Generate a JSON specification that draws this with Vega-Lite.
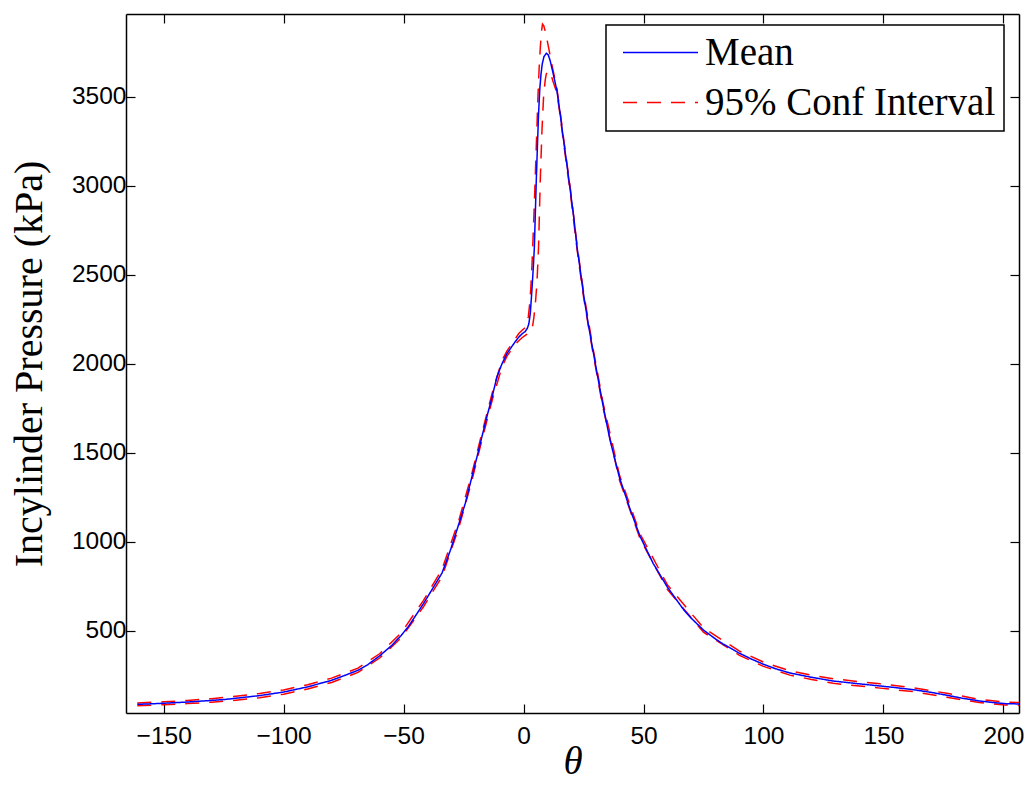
{
  "$schema": "https://vega.github.io/schema/vega-lite/v6.json",
  "width": 893,
  "height": 699,
  "autosize": {"type": "none"},
  "padding": {"left": 126, "top": 14, "right": 10, "bottom": 72},
  "background": "white",
  "config": {
    "view": {"stroke": null},
    "axis": {
      "grid": false,
      "domainColor": "black",
      "domainWidth": 1.5,
      "tickColor": "black",
      "tickWidth": 1.2,
      "tickSize": -9,
      "labelFont": "Liberation Sans",
      "labelFontSize": 24.5,
      "labelColor": "black",
      "titleFont": "Liberation Serif",
      "titleFontSize": 39,
      "titleFontWeight": "normal",
      "titleColor": "black"
    },
    "legend": {"strokeWidth": 1.5}
  },
  "datasets": {
    "curves": [
      {"t": -161, "s": "Upper", "v": 96}, {"t": -150, "s": "Upper", "v": 102}, {"t": -140, "s": "Upper", "v": 110}, {"t": -130, "s": "Upper", "v": 120},
      {"t": -120, "s": "Upper", "v": 133}, {"t": -110, "s": "Upper", "v": 149}, {"t": -100, "s": "Upper", "v": 169}, {"t": -90, "s": "Upper", "v": 198},
      {"t": -80, "s": "Upper", "v": 235}, {"t": -69, "s": "Upper", "v": 291}, {"t": -60, "s": "Upper", "v": 372}, {"t": -51, "s": "Upper", "v": 489},
      {"t": -41.7, "s": "Upper", "v": 672}, {"t": -34, "s": "Upper", "v": 845}, {"t": -27, "s": "Upper", "v": 1120}, {"t": -22, "s": "Upper", "v": 1360},
      {"t": -17, "s": "Upper", "v": 1630}, {"t": -13, "s": "Upper", "v": 1840}, {"t": -9, "s": "Upper", "v": 2018}, {"t": -6.9, "s": "Upper", "v": 2073},
      {"t": -5, "s": "Upper", "v": 2110}, {"t": -3.5, "s": "Upper", "v": 2140}, {"t": -2, "s": "Upper", "v": 2170}, {"t": -0.5, "s": "Upper", "v": 2190},
      {"t": 0.7, "s": "Upper", "v": 2204}, {"t": 1.6, "s": "Upper", "v": 2240}, {"t": 2, "s": "Upper", "v": 2265}, {"t": 2.5, "s": "Upper", "v": 2330},
      {"t": 3, "s": "Upper", "v": 2420}, {"t": 3.5, "s": "Upper", "v": 2550}, {"t": 4, "s": "Upper", "v": 2720}, {"t": 4.5, "s": "Upper", "v": 2900},
      {"t": 5, "s": "Upper", "v": 3100}, {"t": 5.5, "s": "Upper", "v": 3300}, {"t": 6, "s": "Upper", "v": 3500}, {"t": 6.5, "s": "Upper", "v": 3660},
      {"t": 7, "s": "Upper", "v": 3780}, {"t": 7.5, "s": "Upper", "v": 3870}, {"t": 7.9, "s": "Upper", "v": 3908}, {"t": 8.4, "s": "Upper", "v": 3900},
      {"t": 9, "s": "Upper", "v": 3870}, {"t": 9.5, "s": "Upper", "v": 3840}, {"t": 10.4, "s": "Upper", "v": 3778}, {"t": 11.8, "s": "Upper", "v": 3680},
      {"t": 13.9, "s": "Upper", "v": 3545}, {"t": 15, "s": "Upper", "v": 3442}, {"t": 16.7, "s": "Upper", "v": 3265}, {"t": 19.5, "s": "Upper", "v": 2985},
      {"t": 22.3, "s": "Upper", "v": 2668}, {"t": 25, "s": "Upper", "v": 2404}, {"t": 29, "s": "Upper", "v": 2084}, {"t": 33, "s": "Upper", "v": 1789},
      {"t": 40, "s": "Upper", "v": 1374}, {"t": 48.6, "s": "Upper", "v": 1044}, {"t": 60, "s": "Upper", "v": 758}, {"t": 75, "s": "Upper", "v": 517},
      {"t": 90, "s": "Upper", "v": 387}, {"t": 100, "s": "Upper", "v": 325}, {"t": 111, "s": "Upper", "v": 276}, {"t": 120, "s": "Upper", "v": 252},
      {"t": 129, "s": "Upper", "v": 232}, {"t": 140, "s": "Upper", "v": 215}, {"t": 148.6, "s": "Upper", "v": 203}, {"t": 162.5, "s": "Upper", "v": 181},
      {"t": 176.4, "s": "Upper", "v": 150}, {"t": 190, "s": "Upper", "v": 116}, {"t": 200.7, "s": "Upper", "v": 100}, {"t": 206.5, "s": "Upper", "v": 98},

      {"t": -161, "s": "Lower", "v": 80}, {"t": -150, "s": "Lower", "v": 86}, {"t": -140, "s": "Lower", "v": 92}, {"t": -130, "s": "Lower", "v": 100},
      {"t": -120, "s": "Lower", "v": 111}, {"t": -110, "s": "Lower", "v": 125}, {"t": -100, "s": "Lower", "v": 145}, {"t": -90, "s": "Lower", "v": 174},
      {"t": -80, "s": "Lower", "v": 211}, {"t": -69, "s": "Lower", "v": 267}, {"t": -60, "s": "Lower", "v": 348}, {"t": -51, "s": "Lower", "v": 461},
      {"t": -41.7, "s": "Lower", "v": 636}, {"t": -34, "s": "Lower", "v": 805}, {"t": -27, "s": "Lower", "v": 1080}, {"t": -22, "s": "Lower", "v": 1320},
      {"t": -17, "s": "Lower", "v": 1590}, {"t": -13, "s": "Lower", "v": 1800}, {"t": -9, "s": "Lower", "v": 1982}, {"t": -6.9, "s": "Lower", "v": 2043},
      {"t": -5, "s": "Lower", "v": 2080}, {"t": -3.5, "s": "Lower", "v": 2108}, {"t": -2, "s": "Lower", "v": 2130}, {"t": -0.5, "s": "Lower", "v": 2148},
      {"t": 0.7, "s": "Lower", "v": 2160}, {"t": 1.6, "s": "Lower", "v": 2168}, {"t": 2.5, "s": "Lower", "v": 2175}, {"t": 3.2, "s": "Lower", "v": 2185},
      {"t": 3.8, "s": "Lower", "v": 2215}, {"t": 4.3, "s": "Lower", "v": 2260}, {"t": 5, "s": "Lower", "v": 2350}, {"t": 5.6, "s": "Lower", "v": 2460},
      {"t": 6.25, "s": "Lower", "v": 2654}, {"t": 6.96, "s": "Lower", "v": 3028}, {"t": 7.67, "s": "Lower", "v": 3309}, {"t": 8.33, "s": "Lower", "v": 3497},
      {"t": 9, "s": "Lower", "v": 3590}, {"t": 9.46, "s": "Lower", "v": 3627}, {"t": 10.4, "s": "Lower", "v": 3646}, {"t": 11.4, "s": "Lower", "v": 3627},
      {"t": 12.2, "s": "Lower", "v": 3590}, {"t": 13.9, "s": "Lower", "v": 3522}, {"t": 15, "s": "Lower", "v": 3418}, {"t": 16.7, "s": "Lower", "v": 3241},
      {"t": 19.5, "s": "Lower", "v": 2960}, {"t": 22.3, "s": "Lower", "v": 2642}, {"t": 25, "s": "Lower", "v": 2376}, {"t": 29, "s": "Lower", "v": 2056},
      {"t": 33, "s": "Lower", "v": 1761}, {"t": 40, "s": "Lower", "v": 1346}, {"t": 48.6, "s": "Lower", "v": 1016}, {"t": 60, "s": "Lower", "v": 732},
      {"t": 75, "s": "Lower", "v": 493}, {"t": 90, "s": "Lower", "v": 363}, {"t": 100, "s": "Lower", "v": 301}, {"t": 111, "s": "Lower", "v": 252},
      {"t": 120, "s": "Lower", "v": 228}, {"t": 129, "s": "Lower", "v": 206}, {"t": 140, "s": "Lower", "v": 191}, {"t": 148.6, "s": "Lower", "v": 179},
      {"t": 162.5, "s": "Lower", "v": 159}, {"t": 176.4, "s": "Lower", "v": 128}, {"t": 190, "s": "Lower", "v": 98}, {"t": 200.7, "s": "Lower", "v": 84},
      {"t": 206.5, "s": "Lower", "v": 82},

      {"t": -161, "s": "Mean", "v": 88}, {"t": -155, "s": "Mean", "v": 91}, {"t": -150, "s": "Mean", "v": 94}, {"t": -140, "s": "Mean", "v": 101},
      {"t": -130, "s": "Mean", "v": 110}, {"t": -124, "s": "Mean", "v": 116}, {"t": -120, "s": "Mean", "v": 122}, {"t": -110, "s": "Mean", "v": 137},
      {"t": -100, "s": "Mean", "v": 157}, {"t": -90, "s": "Mean", "v": 186}, {"t": -80, "s": "Mean", "v": 223}, {"t": -75, "s": "Mean", "v": 248},
      {"t": -69, "s": "Mean", "v": 279}, {"t": -65, "s": "Mean", "v": 310}, {"t": -60, "s": "Mean", "v": 360}, {"t": -55, "s": "Mean", "v": 418},
      {"t": -51, "s": "Mean", "v": 475}, {"t": -48, "s": "Mean", "v": 525}, {"t": -44.5, "s": "Mean", "v": 596}, {"t": -41.7, "s": "Mean", "v": 654},
      {"t": -37.5, "s": "Mean", "v": 747}, {"t": -34, "s": "Mean", "v": 825}, {"t": -30.5, "s": "Mean", "v": 953}, {"t": -27, "s": "Mean", "v": 1100},
      {"t": -24.3, "s": "Mean", "v": 1216}, {"t": -22, "s": "Mean", "v": 1340}, {"t": -19.4, "s": "Mean", "v": 1478}, {"t": -17, "s": "Mean", "v": 1610},
      {"t": -15.3, "s": "Mean", "v": 1702}, {"t": -13, "s": "Mean", "v": 1820}, {"t": -11.1, "s": "Mean", "v": 1927}, {"t": -9, "s": "Mean", "v": 2000},
      {"t": -6.9, "s": "Mean", "v": 2058}, {"t": -5, "s": "Mean", "v": 2095}, {"t": -3.5, "s": "Mean", "v": 2124}, {"t": -2, "s": "Mean", "v": 2150},
      {"t": -0.5, "s": "Mean", "v": 2170}, {"t": 0.7, "s": "Mean", "v": 2182}, {"t": 1.6, "s": "Mean", "v": 2200}, {"t": 2.2, "s": "Mean", "v": 2225},
      {"t": 2.8, "s": "Mean", "v": 2283}, {"t": 3.2, "s": "Mean", "v": 2358}, {"t": 3.6, "s": "Mean", "v": 2440}, {"t": 4.1, "s": "Mean", "v": 2550},
      {"t": 4.5, "s": "Mean", "v": 2654}, {"t": 4.9, "s": "Mean", "v": 2840}, {"t": 5.3, "s": "Mean", "v": 3028}, {"t": 5.8, "s": "Mean", "v": 3230},
      {"t": 6.25, "s": "Mean", "v": 3403}, {"t": 6.8, "s": "Mean", "v": 3550}, {"t": 7.3, "s": "Mean", "v": 3630}, {"t": 7.8, "s": "Mean", "v": 3685},
      {"t": 8.5, "s": "Mean", "v": 3725}, {"t": 9.5, "s": "Mean", "v": 3744}, {"t": 10.3, "s": "Mean", "v": 3735}, {"t": 11.1, "s": "Mean", "v": 3702},
      {"t": 12, "s": "Mean", "v": 3650}, {"t": 13, "s": "Mean", "v": 3590}, {"t": 13.9, "s": "Mean", "v": 3534}, {"t": 15, "s": "Mean", "v": 3430},
      {"t": 16.7, "s": "Mean", "v": 3253}, {"t": 18, "s": "Mean", "v": 3125}, {"t": 19.5, "s": "Mean", "v": 2972}, {"t": 21, "s": "Mean", "v": 2815},
      {"t": 22.3, "s": "Mean", "v": 2654}, {"t": 23.7, "s": "Mean", "v": 2520}, {"t": 25, "s": "Mean", "v": 2390}, {"t": 27, "s": "Mean", "v": 2220},
      {"t": 29, "s": "Mean", "v": 2070}, {"t": 31, "s": "Mean", "v": 1920}, {"t": 33, "s": "Mean", "v": 1775}, {"t": 36, "s": "Mean", "v": 1575},
      {"t": 40, "s": "Mean", "v": 1360}, {"t": 44.5, "s": "Mean", "v": 1180}, {"t": 48.6, "s": "Mean", "v": 1030}, {"t": 54, "s": "Mean", "v": 880},
      {"t": 60, "s": "Mean", "v": 745}, {"t": 66.7, "s": "Mean", "v": 620}, {"t": 70, "s": "Mean", "v": 570}, {"t": 75, "s": "Mean", "v": 505},
      {"t": 80, "s": "Mean", "v": 455}, {"t": 83, "s": "Mean", "v": 428}, {"t": 90, "s": "Mean", "v": 375}, {"t": 95, "s": "Mean", "v": 342},
      {"t": 100, "s": "Mean", "v": 313}, {"t": 105, "s": "Mean", "v": 288}, {"t": 111, "s": "Mean", "v": 264}, {"t": 120, "s": "Mean", "v": 240},
      {"t": 129, "s": "Mean", "v": 219}, {"t": 140, "s": "Mean", "v": 203}, {"t": 148.6, "s": "Mean", "v": 191}, {"t": 155, "s": "Mean", "v": 182},
      {"t": 162.5, "s": "Mean", "v": 170}, {"t": 170, "s": "Mean", "v": 155}, {"t": 176.4, "s": "Mean", "v": 139}, {"t": 183, "s": "Mean", "v": 122},
      {"t": 190, "s": "Mean", "v": 107}, {"t": 195, "s": "Mean", "v": 99}, {"t": 200.7, "s": "Mean", "v": 92}, {"t": 206.5, "s": "Mean", "v": 90}
    ]
  },
  "data": {"name": "curves"},
  "layer": [
    {
      "mark": {"type": "line", "strokeWidth": 1.5, "clip": true},
      "encoding": {
        "x": {
          "field": "t", "type": "quantitative",
          "scale": {"domain": [-165.7, 206.5], "nice": false, "zero": false},
          "axis": {"orient": "bottom", "values": [-150, -100, -50, 0, 50, 100, 150, 200], "format": "d", "title": "θ", "titleFontStyle": "italic", "labelPadding": 20, "titlePadding": -5}
        },
        "y": {
          "field": "v", "type": "quantitative",
          "scale": {"domain": [39.3, 3964.6], "nice": false, "zero": false},
          "axis": {"orient": "left", "values": [500, 1000, 1500, 2000, 2500, 3000, 3500], "format": "d", "title": "Incylinder Pressure (kPa)", "titleFontSize": 40, "labelPadding": 9, "titlePadding": 22}
        },
        "color": {
          "field": "s", "type": "nominal",
          "scale": {"domain": ["Mean", "Upper", "Lower"], "range": ["#0000ff", "#ff0000", "#ff0000"]},
          "legend": {"orient": "none", "legendX": 480, "legendY": 11, "title": null, "values": ["Mean", "Upper"],
            "labelExpr": "datum.value === 'Mean' ? 'Mean' : '95% Conf Interval'",
            "padding": 8, "strokeColor": "black", "fillColor": "white", "cornerRadius": 0,
            "symbolType": "M-3,0H3", "symbolSize": 625, "symbolStrokeWidth": 1.5, "symbolOffset": 27, "labelOffset": 25, "labelLimit": 0,
            "labelFont": "Liberation Serif", "labelFontSize": 39, "labelColor": "black", "rowPadding": 10}
        },
        "strokeDash": {
          "field": "s", "type": "nominal",
          "scale": {"domain": ["Mean", "Upper", "Lower"], "range": [[1, 0], [14, 10], [14, 10]]},
          "legend": {"orient": "none", "legendX": 480, "legendY": 11, "title": null, "values": ["Mean", "Upper"],
            "labelExpr": "datum.value === 'Mean' ? 'Mean' : '95% Conf Interval'",
            "padding": 8, "strokeColor": "black", "fillColor": "white", "cornerRadius": 0,
            "symbolType": "M-3,0H3", "symbolSize": 625, "symbolStrokeWidth": 1.5, "symbolOffset": 27, "labelOffset": 25, "labelLimit": 0,
            "labelFont": "Liberation Serif", "labelFontSize": 39, "labelColor": "black", "rowPadding": 10}
        }
      }
    },
    {
      "mark": {"type": "line", "strokeOpacity": 0},
      "encoding": {
        "x": {"field": "t", "type": "quantitative", "axis": {"orient": "top", "labels": false, "title": null, "values": [-150, -100, -50, 0, 50, 100, 150, 200]}},
        "y": {"field": "v", "type": "quantitative", "axis": {"orient": "right", "labels": false, "title": null, "values": [500, 1000, 1500, 2000, 2500, 3000, 3500]}},
        "detail": {"field": "s", "type": "nominal"}
      }
    }
  ],
  "resolve": {"axis": {"x": "independent", "y": "independent"}}
}
